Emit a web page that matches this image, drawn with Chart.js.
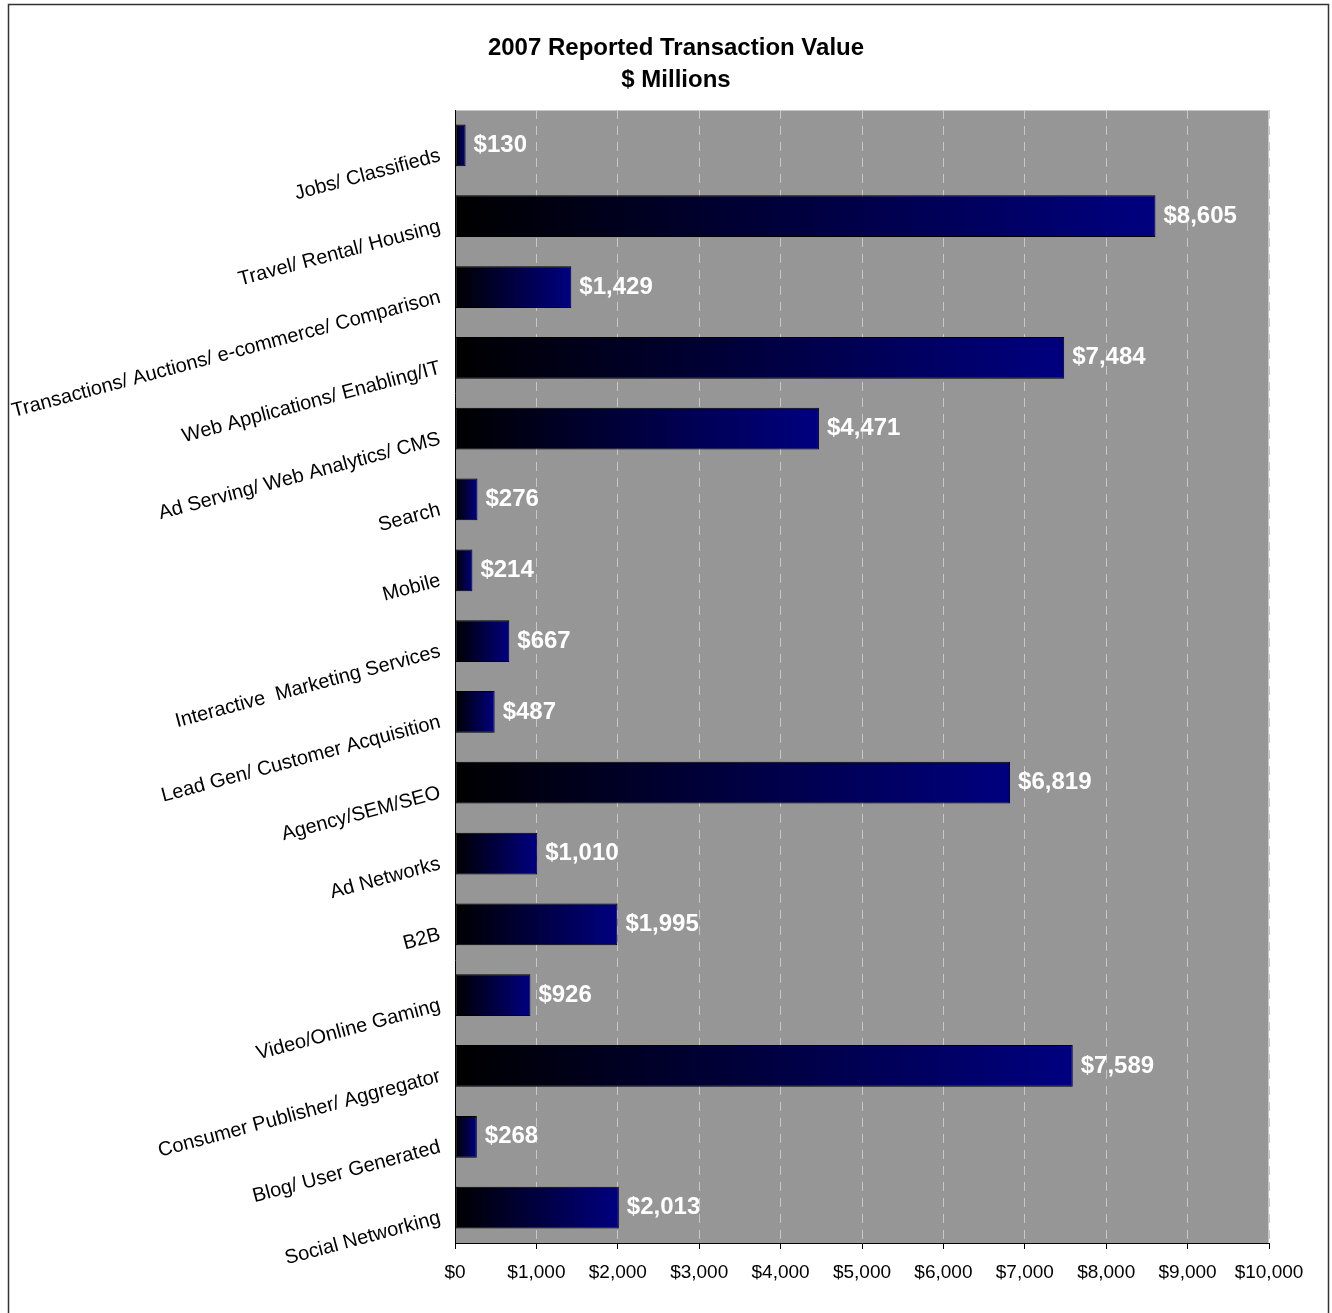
<!DOCTYPE html>
<html>
<head>
<meta charset="utf-8">
<title>2007 Reported Transaction Value</title>
<script src="https://cdn.jsdelivr.net/npm/chart.js"></script>
<style>
  html, body { margin: 0; padding: 0; background: #fff; }
  canvas { display: block; }
</style>
</head>
<body>
<canvas id="txChart" width="1332" height="1313"></canvas>
<script>
// Sectors, top to bottom
const categories = [
  'Jobs/ Classifieds',
  'Travel/ Rental/ Housing',
  'Transactions/ Auctions/ e-commerce/ Comparison',
  'Web Applications/ Enabling/IT',
  'Ad Serving/ Web Analytics/ CMS',
  'Search',
  'Mobile',
  'Interactive  Marketing Services',
  'Lead Gen/ Customer Acquisition',
  'Agency/SEM/SEO',
  'Ad Networks',
  'B2B',
  'Video/Online Gaming',
  'Consumer Publisher/ Aggregator',
  'Blog/ User Generated',
  'Social Networking'
];

// Reported transaction value, $ millions
const values = [130, 8605, 1429, 7484, 4471, 276, 214, 667, 487, 6819, 1010, 1995, 926, 7589, 268, 2013];

const xTicks = [0, 1000, 2000, 3000, 4000, 5000, 6000, 7000, 8000, 9000, 10000];

const titleLines = ['2007 Reported Transaction Value', '$ Millions'];

const FONT = "'Liberation Sans', Arial, Helvetica, sans-serif";
const money = v => '$' + Number(v).toLocaleString('en-US');

// frame around the whole chart, grey plot background and the two-line heading
const backdrop = {
  id: 'backdrop',
  beforeDraw(chart) {
    const { ctx, chartArea: a } = chart;
    ctx.save();
    ctx.strokeStyle = '#333';
    ctx.lineWidth = 1.5;
    ctx.strokeRect(8.5, 4.5, 1320, 1320);
    ctx.fillStyle = '#969696';
    ctx.fillRect(a.left, a.top, a.right - a.left, a.bottom - a.top);
    ctx.strokeStyle = '#c8c8c8';
    ctx.lineWidth = 1;
    ctx.strokeRect(a.left + 0.5, a.top + 0.5, a.right - a.left - 1, a.bottom - a.top);

    ctx.fillStyle = '#000';
    ctx.font = 'bold 24px ' + FONT;
    ctx.textAlign = 'center';
    ctx.textBaseline = 'middle';
    titleLines.forEach((t, i) => ctx.fillText(t, 676, 48 + i * 32));
    ctx.restore();
  }
};

// white $ labels at the end of each bar
const valueLabels = {
  id: 'valueLabels',
  afterDatasetsDraw(chart) {
    const { ctx } = chart;
    const meta = chart.getDatasetMeta(0);
    ctx.save();
    ctx.font = 'bold 24px ' + FONT;
    ctx.fillStyle = '#fff';
    ctx.textAlign = 'left';
    ctx.textBaseline = 'middle';
    meta.data.forEach((bar, i) => {
      ctx.fillText(money(values[i]), bar.x + 8, bar.y);
    });
    ctx.restore();
  }
};

// each bar fades from black at the axis to navy at its end
function barFill(c) {
  const chart = c.chart;
  if (!chart.chartArea) return '#000080';
  const x = chart.scales.x;
  const x0 = x.getPixelForValue(0);
  const x1 = x.getPixelForValue(c.raw);
  const g = chart.ctx.createLinearGradient(x0, 0, Math.max(x1, x0 + 1), 0);
  g.addColorStop(0, '#000000');
  g.addColorStop(1, '#000080');
  return g;
}

new Chart(document.getElementById('txChart'), {
  type: 'bar',
  data: {
    labels: categories,
    datasets: [{
      data: values,
      backgroundColor: barFill,
      borderColor: '#000',
      borderWidth: 1,
      borderSkipped: false,
      categoryPercentage: 0.59,
      barPercentage: 1
    }]
  },
  options: {
    indexAxis: 'y',
    responsive: false,
    animation: false,
    devicePixelRatio: 1,
    layout: { padding: { top: 110, left: 8, right: 63, bottom: 20 } },
    plugins: {
      legend: { display: false },
      tooltip: { enabled: false },
      title: { display: false }
    },
    scales: {
      x: {
        min: 0,
        max: 10000,
        afterBuildTicks: axis => { axis.ticks = xTicks.map(v => ({ value: v })); },
        afterFit: axis => { axis.height = 50; },
        grid: {
          color: c => (c.index === 0 ? 'rgba(0,0,0,0)' : '#c8c8c8'),
          lineWidth: 1,
          tickLength: 6,
          tickColor: '#000',
          tickBorderDash: []
        },
        border: { display: true, color: '#000', width: 1, dash: [9, 7] },
        ticks: {
          color: '#000',
          font: { family: FONT, size: 19 },
          padding: 12,
          maxRotation: 0,
          callback: v => money(v)
        }
      },
      y: {
        afterFit: axis => { axis.width = 447; },
        grid: { display: false },
        border: { display: true, color: '#000', width: 1 },
        ticks: {
          color: '#000',
          font: { family: FONT, size: 20 },
          autoSkip: false,
          minRotation: 15,
          maxRotation: 15,
          padding: 7,
          labelOffset: 10
        }
      }
    }
  },
  plugins: [backdrop, valueLabels]
});
</script>
</body>
</html>
